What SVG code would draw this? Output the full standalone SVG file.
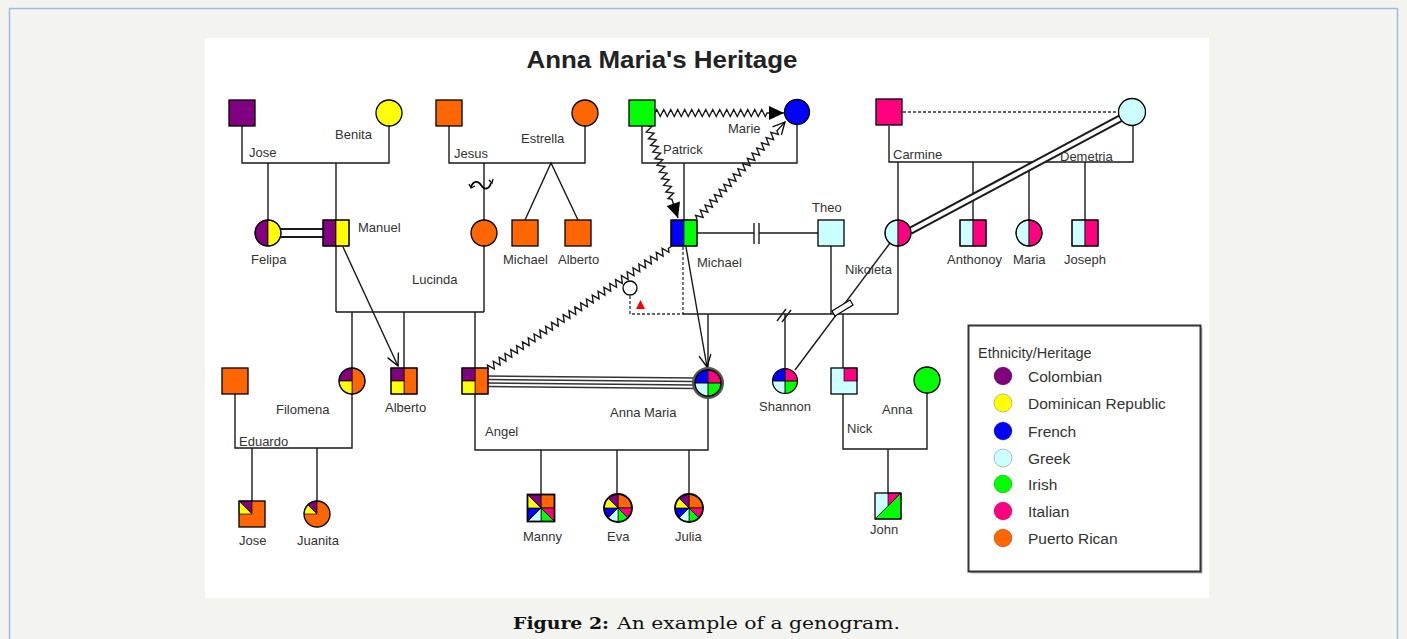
<svg xmlns="http://www.w3.org/2000/svg" width="1407" height="639" viewBox="0 0 1407 639">
<style>
.ln{fill:none;stroke:#1a1a1a;stroke-width:1.4}
.ds{fill:none;stroke:#333;stroke-width:1.3;stroke-dasharray:3,2}
.o{stroke:#000;stroke-width:1.3}
.s{stroke:#000;stroke-width:0.7}
.P{fill:#800080}.Y{fill:#ffff00}.B{fill:#0000ff}.G{fill:#ccffff}.I{fill:#00ff00}.T{fill:#ff0080}.R{fill:#ff6600}
.nf{fill:none}
.lb{font-family:"Liberation Sans",Arial,sans-serif;font-size:13px;fill:#333}
.lg{font-family:"Liberation Sans",Arial,sans-serif;font-size:15.5px;fill:#333}
</style>
<defs>
<marker id="af" markerUnits="userSpaceOnUse" markerWidth="16" markerHeight="16" refX="15" refY="7" orient="auto" overflow="visible"><path d="M0,0L15,7L0,14Z" fill="#000"/></marker>
<marker id="ao" markerUnits="userSpaceOnUse" markerWidth="14" markerHeight="14" refX="12" refY="6" orient="auto" overflow="visible"><path d="M0,0L12,6L0,12" fill="none" stroke="#000" stroke-width="1.3"/></marker>
<g id="pie8">
<path fill="#ff6600" stroke="#000" stroke-width="0.7" d="M0,0V-14A14,14 0 0 1 14,0Z"/>
<path fill="#ff0080" stroke="#000" stroke-width="0.7" d="M0,0H14A14,14 0 0 1 9.9,9.9Z"/>
<path fill="#00ff00" stroke="#000" stroke-width="0.7" d="M0,0L9.9,9.9A14,14 0 0 1 0,14Z"/>
<path fill="#ccffff" stroke="#000" stroke-width="0.7" d="M0,0V14A14,14 0 0 1 -9.9,9.9Z"/>
<path fill="#0000ff" stroke="#000" stroke-width="0.7" d="M0,0L-9.9,9.9A14,14 0 0 1 -14,0Z"/>
<path fill="#ffff00" stroke="#000" stroke-width="0.7" d="M0,0H-14A14,14 0 0 1 -9.9,-9.9Z"/>
<path fill="#800080" stroke="#000" stroke-width="0.7" d="M0,0L-9.9,-9.9A14,14 0 0 1 0,-14Z"/>
<circle r="14" fill="none" stroke="#000" stroke-width="1.8"/>
</g>
<g id="q4">
<path fill="#0000ff" d="M0,0H-13A13,13 0 0 1 0,-13Z"/>
<path fill="#ff0080" d="M0,0V-13A13,13 0 0 1 13,0Z"/>
<path fill="#00ff00" d="M0,0H13A13,13 0 0 1 0,13Z"/>
<path fill="#ccffff" d="M0,0V13A13,13 0 0 1 -13,0Z"/>
<path d="M-13,0H13M0,-13V13" stroke="#000" stroke-width="1"/>
<circle r="13" fill="none" stroke="#000" stroke-width="1.3"/>
</g>
</defs>

<rect width="1407" height="639" fill="#f3f3ef"/>
<path d="M9.5,639V8.5H1397.5V639" fill="none" stroke="#9dbbe6" stroke-width="1.5"/>
<rect x="205" y="38" width="1004" height="560" fill="#fff"/>

<text x="662" y="68" text-anchor="middle" font-family="Liberation Sans, Arial, sans-serif" font-size="24" font-weight="bold" fill="#222" textLength="271" lengthAdjust="spacingAndGlyphs">Anna Maria's Heritage</text>

<g id="connectors">
<path class="ln" d="M242,126V163H389V126"/>
<path class="ln" d="M268,163V220M336,163V220M336,246V312"/>
<path class="ln" d="M449,126V163H585V126"/>
<path class="ln" d="M484,163V220M484,246V312"/>
<path class="ln" d="M525,220L551,163L578,220"/>
<path d="M471,187c2,-6 7,-7 10,-2c3,5 8,5 10,-2" fill="none" stroke="#000" stroke-width="1.8"/>
<path d="M469,184l2,4l4,-2M489,180l3,3l1,-4" fill="none" stroke="#000" stroke-width="1.3"/>
<path class="ln" d="M642,126V163H797V125"/>
<path class="ln" d="M684,163V220"/>
<path class="ln" d="M889,126V162H1133V126"/>
<path class="ds" d="M903,112H1119"/>
<path class="ln" d="M898,162V220M898,246V314"/>
<path class="ln" d="M973,162V220M1029,162V220M1085,162V220"/>
<path class="ln" d="M697,233H754M759,233H818M754,223V244M759,223V244"/>
<path class="ln" d="M831,246V314"/>
<path class="ln" d="M336,312H484M352,312V368M404,312V368M475,312V368"/>
<path class="ds" d="M683,247V314H630V295"/>
<path class="ln" d="M683,314H898"/>
<path class="ln" d="M777,321L786,309M782,322L791,310"/>
<path class="ln" d="M785,314V368M708,314V368M843,314V368"/>
<path class="ln" d="M890,243L795,370"/>
<polygon points="832,311 850,300 853,305 835,316" fill="#fff" stroke="#000" stroke-width="1.2"/>
<path class="ln" d="M843,394V449H927V393M888,449V493"/>
<path class="ln" d="M475,394V450H708V398M541,450V494M617,450V494M689,450V494"/>
<path class="ln" d="M235,394V448H352V394M252,448V501M317,448V501"/>
<path d="M281,233H324" stroke="#1a1a1a" stroke-width="10"/>
<path d="M281,233H324" stroke="#fff" stroke-width="6"/>
<path d="M910,231L1121,118" stroke="#1a1a1a" stroke-width="8"/>
<path d="M910,231L1121,118" stroke="#fff" stroke-width="4"/>
<path d="M488,376L694,378M488,379.5L694,381.5M488,383L694,385M488,386.5L694,388.5" fill="none" stroke="#333" stroke-width="1.4"/>
<path class="ln" d="M343,247L398,366" marker-end="url(#ao)"/>
<path class="ln" d="M686,247L707,367" marker-end="url(#ao)"/>
<path class="ln" transform="translate(655,113)" marker-end="url(#af)" d="M0,0
l1.75,-3.5l3.5,7l1.75,-3.5l1.75,-3.5l3.5,7l1.75,-3.5l1.75,-3.5l3.5,7l1.75,-3.5l1.75,-3.5l3.5,7l1.75,-3.5l1.75,-3.5l3.5,7l1.75,-3.5
l1.75,-3.5l3.5,7l1.75,-3.5l1.75,-3.5l3.5,7l1.75,-3.5l1.75,-3.5l3.5,7l1.75,-3.5l1.75,-3.5l3.5,7l1.75,-3.5l1.75,-3.5l3.5,7l1.75,-3.5
l1.75,-3.5l3.5,7l1.75,-3.5l1.75,-3.5l3.5,7l1.75,-3.5l1.75,-3.5l3.5,7l1.75,-3.5l1.75,-3.5l3.5,7l1.75,-3.5l1.75,-3.5l3.5,7l1.75,-3.5
l1.75,-3.5l3.5,7l1.75,-3.5
l17,0"/>
<path class="ln" transform="translate(648,126) rotate(71.94)" marker-end="url(#af)" d="M0,0
l1.75,-3.5l3.5,7l1.75,-3.5l1.75,-3.5l3.5,7l1.75,-3.5l1.75,-3.5l3.5,7l1.75,-3.5l1.75,-3.5l3.5,7l1.75,-3.5l1.75,-3.5l3.5,7l1.75,-3.5
l1.75,-3.5l3.5,7l1.75,-3.5l1.75,-3.5l3.5,7l1.75,-3.5l1.75,-3.5l3.5,7l1.75,-3.5l1.75,-3.5l3.5,7l1.75,-3.5l1.75,-3.5l3.5,7l1.75,-3.5
l1.75,-3.5l3.5,7l1.75,-3.5
l19.8,0"/>
<path class="ln" transform="translate(697,219) rotate(-47.8)" marker-end="url(#ao)" d="M0,0
l1.75,-3.5l3.5,7l1.75,-3.5l1.75,-3.5l3.5,7l1.75,-3.5l1.75,-3.5l3.5,7l1.75,-3.5l1.75,-3.5l3.5,7l1.75,-3.5l1.75,-3.5l3.5,7l1.75,-3.5
l1.75,-3.5l3.5,7l1.75,-3.5l1.75,-3.5l3.5,7l1.75,-3.5l1.75,-3.5l3.5,7l1.75,-3.5l1.75,-3.5l3.5,7l1.75,-3.5l1.75,-3.5l3.5,7l1.75,-3.5
l1.75,-3.5l3.5,7l1.75,-3.5l1.75,-3.5l3.5,7l1.75,-3.5l1.75,-3.5l3.5,7l1.75,-3.5l1.75,-3.5l3.5,7l1.75,-3.5l1.75,-3.5l3.5,7l1.75,-3.5
l1.75,-3.5l3.5,7l1.75,-3.5l1.75,-3.5l3.5,7l1.75,-3.5
l12,0"/>
<path class="ln" transform="translate(488,369) rotate(-33.76)" d="M0,0
l1.75,-3.5l3.5,7l1.75,-3.5l1.75,-3.5l3.5,7l1.75,-3.5l1.75,-3.5l3.5,7l1.75,-3.5l1.75,-3.5l3.5,7l1.75,-3.5l1.75,-3.5l3.5,7l1.75,-3.5
l1.75,-3.5l3.5,7l1.75,-3.5l1.75,-3.5l3.5,7l1.75,-3.5l1.75,-3.5l3.5,7l1.75,-3.5l1.75,-3.5l3.5,7l1.75,-3.5l1.75,-3.5l3.5,7l1.75,-3.5
l1.75,-3.5l3.5,7l1.75,-3.5l1.75,-3.5l3.5,7l1.75,-3.5l1.75,-3.5l3.5,7l1.75,-3.5l1.75,-3.5l3.5,7l1.75,-3.5l1.75,-3.5l3.5,7l1.75,-3.5
l1.75,-3.5l3.5,7l1.75,-3.5l1.75,-3.5l3.5,7l1.75,-3.5l1.75,-3.5l3.5,7l1.75,-3.5l1.75,-3.5l3.5,7l1.75,-3.5l1.75,-3.5l3.5,7l1.75,-3.5
l1.75,-3.5l3.5,7l1.75,-3.5l1.75,-3.5l3.5,7l1.75,-3.5l1.75,-3.5l3.5,7l1.75,-3.5l1.75,-3.5l3.5,7l1.75,-3.5l1.75,-3.5l3.5,7l1.75,-3.5
l1.75,-3.5l3.5,7l1.75,-3.5l1.75,-3.5l3.5,7l1.75,-3.5l1.75,-3.5l3.5,7l1.75,-3.5l1.75,-3.5l3.5,7l1.75,-3.5l1.75,-3.5l3.5,7l1.75,-3.5
l1.75,-3.5l3.5,7l1.75,-3.5
l4.3,0"/>
</g>

<g id="jose-sr"><rect class="P o" x="229" y="100" width="26" height="26"/><text class="lb" x="249" y="157">Jose</text></g>
<g id="benita"><circle class="Y o" cx="389" cy="113" r="13"/><text class="lb" x="335" y="139">Benita</text></g>
<g id="jesus"><rect class="R o" x="436" y="100" width="26" height="26"/><text class="lb" x="454" y="158">Jesus</text></g>
<g id="estrella"><circle class="R o" cx="585" cy="113" r="13"/><text class="lb" x="521" y="143">Estrella</text></g>
<g id="patrick"><rect class="I o" x="629" y="100" width="26" height="26"/><text class="lb" x="663" y="154">Patrick</text></g>
<g id="marie"><circle class="B o" cx="797" cy="112" r="12.5"/><text class="lb" x="728" y="133">Marie</text></g>
<g id="carmine"><rect class="T o" x="876" y="99" width="26" height="26"/><text class="lb" x="893" y="159">Carmine</text></g>
<g id="demetria"><circle class="G o" cx="1132" cy="112" r="13.5"/><text class="lb" x="1060" y="161">Demetria</text></g>

<g id="felipa"><g transform="translate(268,233)"><path class="P s" d="M0,-13A13,13 0 0 0 0,13Z"/><path class="Y s" d="M0,-13A13,13 0 0 1 0,13Z"/><circle r="13" class="nf o"/></g><text class="lb" x="251" y="264">Felipa</text></g>
<g id="manuel"><g transform="translate(336,233)"><rect class="P s" x="-13" y="-13" width="13" height="26"/><rect class="Y s" x="0" y="-13" width="13" height="26"/><rect class="nf o" x="-13" y="-13" width="26" height="26"/></g><text class="lb" x="358" y="232">Manuel</text></g>
<g id="lucinda"><circle class="R o" cx="484" cy="233" r="13"/><text class="lb" x="412" y="284">Lucinda</text></g>
<g id="michael-twin"><rect class="R o" x="512" y="220" width="26" height="26"/><text class="lb" x="503" y="264">Michael</text></g>
<g id="alberto-twin"><rect class="R o" x="565" y="220" width="26" height="26"/><text class="lb" x="558" y="264">Alberto</text></g>
<g id="michael"><g transform="translate(684,233)"><rect class="B s" x="-13" y="-13" width="13" height="26"/><rect class="I s" x="0" y="-13" width="13" height="26"/><rect class="nf o" x="-13" y="-13" width="26" height="26"/></g><text class="lb" x="697" y="267">Michael</text></g>
<g id="theo"><rect class="G o" x="818" y="220" width="26" height="26"/><text class="lb" x="812" y="212">Theo</text></g>
<g id="nikoleta"><g transform="translate(898,233)"><path class="G s" d="M0,-13A13,13 0 0 0 0,13Z"/><path class="T s" d="M0,-13A13,13 0 0 1 0,13Z"/><circle r="13" class="nf o"/></g><text class="lb" x="845" y="274">Nikoleta</text></g>
<g id="anthonoy"><g transform="translate(973,233)"><rect class="G s" x="-13" y="-13" width="13" height="26"/><rect class="T s" x="0" y="-13" width="13" height="26"/><rect class="nf o" x="-13" y="-13" width="26" height="26"/></g><text class="lb" x="947" y="264">Anthonoy</text></g>
<g id="maria"><g transform="translate(1029,233)"><path class="G s" d="M0,-13A13,13 0 0 0 0,13Z"/><path class="T s" d="M0,-13A13,13 0 0 1 0,13Z"/><circle r="13" class="nf o"/></g><text class="lb" x="1013" y="264">Maria</text></g>
<g id="joseph"><g transform="translate(1085,233)"><rect class="G s" x="-13" y="-13" width="13" height="26"/><rect class="T s" x="0" y="-13" width="13" height="26"/><rect class="nf o" x="-13" y="-13" width="26" height="26"/></g><text class="lb" x="1064" y="264">Joseph</text></g>

<g id="pregnancy"><circle cx="630" cy="288" r="7" fill="#fff" stroke="#000" stroke-width="1.3"/><polygon points="636,309 645,309 640.5,300" fill="#ff0000"/></g>

<g id="eduardo"><rect class="R o" x="222" y="368" width="26" height="26"/><text class="lb" x="239" y="446">Eduardo</text></g>
<g id="filomena"><g transform="translate(352,381)"><path class="R s" d="M0,-13A13,13 0 0 1 0,13Z"/><path class="P s" d="M0,0H-13A13,13 0 0 1 0,-13Z"/><path class="Y s" d="M0,0V13A13,13 0 0 1 -13,0Z"/><circle r="13" class="nf o"/></g><text class="lb" x="276" y="414">Filomena</text></g>
<g id="alberto"><g transform="translate(404,381)"><rect class="R s" x="0" y="-13" width="13" height="26"/><rect class="P s" x="-13" y="-13" width="13" height="13"/><rect class="Y s" x="-13" y="0" width="13" height="13"/><rect class="nf o" x="-13" y="-13" width="26" height="26"/></g><text class="lb" x="385" y="412">Alberto</text></g>
<g id="angel"><g transform="translate(475,381)"><rect class="R s" x="0" y="-13" width="13" height="26"/><rect class="P s" x="-13" y="-13" width="13" height="13"/><rect class="Y s" x="-13" y="0" width="13" height="13"/><rect class="nf o" x="-13" y="-13" width="26" height="26"/></g><text class="lb" x="485" y="436">Angel</text></g>
<g id="anna-maria"><circle cx="708" cy="383" r="14.5" fill="#fff" stroke="#555" stroke-width="3"/><use href="#q4" transform="translate(708,383)"/><text class="lb" x="610" y="417">Anna Maria</text></g>
<g id="shannon"><use href="#q4" transform="translate(785,381) scale(0.96)"/><text class="lb" x="759" y="411">Shannon</text></g>
<g id="nick"><g transform="translate(844,381)"><rect class="G" x="-13" y="-13" width="26" height="26"/><rect class="T s" x="0" y="-13" width="13" height="13"/><rect class="nf o" x="-13" y="-13" width="26" height="26"/></g><text class="lb" x="847" y="433">Nick</text></g>
<g id="anna"><circle class="I o" cx="927" cy="380" r="13"/><text class="lb" x="882" y="414">Anna</text></g>

<g id="jose"><g transform="translate(252,514)"><rect class="R" x="-13" y="-13" width="26" height="26"/><path class="P s" d="M-13,-13H0V0Z"/><path class="Y s" d="M-13,-13V0H0Z"/><rect class="nf o" x="-13" y="-13" width="26" height="26"/></g><text class="lb" x="239" y="545">Jose</text></g>
<g id="juanita"><g transform="translate(317,514)"><circle class="R" r="13"/><path class="P s" d="M0,0L-9.19,-9.19A13,13 0 0 1 0,-13Z"/><path class="Y s" d="M0,0H-13A13,13 0 0 1 -9.19,-9.19Z"/><circle r="13" class="nf o"/></g><text class="lb" x="297" y="545">Juanita</text></g>
<g id="manny"><g transform="translate(541,508)" stroke="#000" stroke-width="0.7"><path class="R" d="M0,0V-13.5H13.5V0Z"/><path class="T" d="M0,0H13.5V13.5Z"/><path class="I" d="M0,0L13.5,13.5H0Z"/><path class="G" d="M0,0V13.5H-13.5Z"/><path class="B" d="M0,0L-13.5,13.5V0Z"/><path class="Y" d="M0,0H-13.5V-13.5Z"/><path class="P" d="M0,0L-13.5,-13.5H0Z"/><rect class="nf" x="-13.5" y="-13.5" width="27" height="27" stroke-width="1.8"/></g><text class="lb" x="523" y="541">Manny</text></g>
<g id="eva"><use href="#pie8" transform="translate(618,508)"/><text class="lb" x="607" y="541">Eva</text></g>
<g id="julia"><use href="#pie8" transform="translate(689,508)"/><text class="lb" x="675" y="541">Julia</text></g>
<g id="john"><g transform="translate(888,506)"><rect class="G" x="-13" y="-13" width="26" height="26"/><path class="I s" d="M-13,13L13,-13V13Z"/><path class="T s" d="M0,-13H13L0,0Z"/><rect class="nf o" x="-13" y="-13" width="26" height="26"/></g><text class="lb" x="870" y="534">John</text></g>

<g id="legend">
<rect x="970.5" y="327.5" width="232" height="246" fill="#bbb"/>
<rect x="968.5" y="325.5" width="232" height="246" fill="#fff" stroke="#333" stroke-width="2"/>
<text x="978" y="358" font-family="Liberation Sans, Arial, sans-serif" font-size="14.5" fill="#333">Ethnicity/Heritage</text>
<g stroke="#000" stroke-opacity="0.25" stroke-width="1">
<circle class="P" cx="1003" cy="376" r="9"/>
<circle class="Y" cx="1003" cy="403" r="9"/>
<circle class="B" cx="1003" cy="431" r="9"/>
<circle class="G" cx="1003" cy="458" r="9"/>
<circle class="I" cx="1003" cy="484" r="9"/>
<circle class="T" cx="1003" cy="511" r="9"/>
<circle class="R" cx="1003" cy="538" r="9"/>
</g>
<text class="lg" x="1028" y="382">Colombian</text>
<text class="lg" x="1028" y="409">Dominican Republic</text>
<text class="lg" x="1028" y="437">French</text>
<text class="lg" x="1028" y="464">Greek</text>
<text class="lg" x="1028" y="490">Irish</text>
<text class="lg" x="1028" y="517">Italian</text>
<text class="lg" x="1028" y="544">Puerto Rican</text>
</g>

<text x="513" y="629" font-family="DejaVu Serif, Liberation Serif, serif" font-size="17" font-weight="bold" fill="#111" textLength="96" lengthAdjust="spacingAndGlyphs">Figure 2:</text>
<text x="617" y="629" font-family="DejaVu Serif, Liberation Serif, serif" font-size="17" fill="#111" textLength="283" lengthAdjust="spacingAndGlyphs">An example of a genogram.</text>
</svg>
